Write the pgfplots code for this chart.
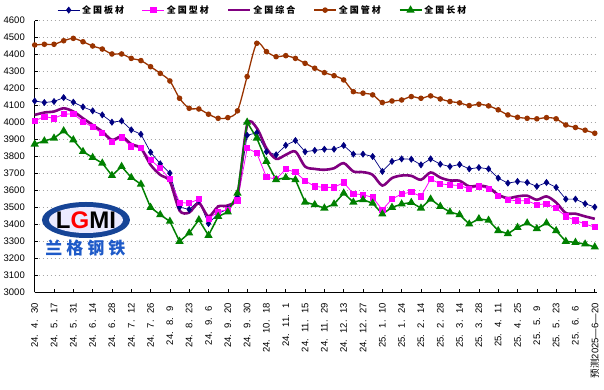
\documentclass[border=0pt]{standalone}
\usepackage{pgfplots}
\usepackage{pgfplotstable}
\pgfplotsset{compat=1.18}
\usepackage{fontspec}
\setmainfont{Liberation Sans}
\newfontfamily\cjk{Noto Sans CJK SC}
\definecolor{cBan}{RGB}{0,0,128}
\definecolor{cXing}{RGB}{255,0,255}
\definecolor{cZong}{RGB}{128,0,128}
\definecolor{cGuan}{RGB}{153,51,0}
\definecolor{cChang}{RGB}{0,128,0}
\definecolor{logoblue}{RGB}{30,90,200}
\newcommand\D{\makebox[0.95em][l]{.}}
\newcommand\dl[3]{#1\D#2\D#3}
\newcommand\sdl[3]{\makebox[4.7em][c]{#1\D#2\D#3}}
\newcommand\lgt[4]{{\cjk\bfseries #1\hspace{2pt}#2\hspace{2pt}#3\hspace{2pt}#4}}
\pgfplotstableread{
i ban xing zong guan chang
0 4127 4010 4045 4457 3873
1 4118 4035 4059 4461 3892
2 4124 4025 4065 4461 3908
3 4147 4049 4084 4482 3951
4 4120 4051 4065 4496 3898
5 4092 4006 4025 4476 3829
6 4069 3973 3986 4451 3794
7 4045 3937 3947 4433 3761
8 4002 3884 3898 4404 3688
9 4010 3912 3918 4404 3741
10 3957 3859 3873 4378 3676
11 3931 3853 3849 4365 3637
12 3825 3780 3751 4329 3500
13 3757 3731 3692 4290 3457
14 3702 3667 3653 4245 3418
15 3502 3529 3482 4143 3300
16 3488 3525 3470 4084 3349
17 3540 3549 3525 4080 3427
18 3405 3433 3447 4049 3335
19 3465 3476 3506 4025 3447
20 3490 3486 3512 4029 3473
21 3560 3541 3575 4069 3584
22 3925 3849 3986 4271 4002
23 3940 3820 3967 4467 3908
24 3828 3678 3849 4418 3771
25 3810 3667 3786 4388 3663
26 3866 3725 3810 4394 3676
27 3894 3708 3829 4378 3663
28 3828 3657 3741 4349 3531
29 3836 3624 3727 4320 3516
30 3843 3618 3722 4294 3496
31 3843 3618 3731 4276 3520
32 3865 3647 3761 4251 3584
33 3814 3580 3712 4182 3531
34 3814 3575 3708 4173 3545
35 3800 3559 3692 4163 3525
36 3712 3486 3629 4118 3461
37 3771 3549 3673 4127 3500
38 3786 3580 3688 4133 3520
39 3784 3590 3686 4153 3529
40 3751 3565 3663 4143 3496
41 3786 3667 3706 4157 3549
42 3755 3639 3676 4139 3506
43 3741 3633 3659 4124 3473
44 3753 3629 3657 4116 3457
45 3727 3610 3624 4100 3402
46 3735 3624 3629 4108 3433
47 3727 3610 3618 4098 3424
48 3673 3569 3575 4075 3363
49 3643 3545 3555 4045 3345
50 3653 3539 3565 4031 3382
51 3647 3539 3569 4025 3408
52 3624 3516 3545 4022 3375
53 3647 3522 3565 4029 3408
54 3618 3496 3529 4022 3363
55 3549 3447 3467 3986 3300
56 3549 3424 3463 3971 3294
57 3522 3402 3447 3955 3284
58 3502 3384 3433 3937 3267
}\data
\begin{document}
\begin{tikzpicture}
\useasboundingbox (-34.7pt,-96.7pt) rectangle (569.3pt,292.3pt);
\begin{axis}[
  at={(0pt,0pt)}, anchor=south west,
  scale only axis, width=562pt, height=271.6pt,
  xmin=0, xmax=58.2, ymin=3000, ymax=4600,
  clip=false,
  axis x line=bottom, axis y line=left,
  axis line style={-, line width=0.8pt, black},
  ytick={3000,3100,...,4600},
  xtick={0,2,...,58},
  xticklabels={{\dl{24}{4}{30}},{\dl{24}{5}{17}},{\dl{24}{5}{31}},{\dl{24}{6}{14}},{\dl{24}{6}{28}},{\dl{24}{7}{12}},{\dl{24}{7}{26}},{\sdl{24}{8}{9}},{\dl{24}{8}{23}},{\sdl{24}{9}{6}},{\dl{24}{9}{20}},{\dl{24}{9}{30}},{\dl{24}{10}{18}},{\dl{24}{11}{1}},{\dl{24}{11}{15}},{\dl{24}{11}{29}},{\dl{24}{12}{13}},{\dl{24}{12}{27}},{\dl{25}{1}{10}},{\dl{25}{1}{24}},{\dl{25}{2}{14}},{\dl{25}{2}{28}},{\dl{25}{3}{14}},{\dl{25}{3}{28}},{\dl{25}{4}{11}},{\dl{25}{4}{25}},{\sdl{25}{5}{9}},{\dl{25}{5}{23}},{\sdl{25}{6}{6}},{{\cjk 预测}2025—6—20}},
  tick align=inside, major tick length=3.5pt,
  tick style={black, line width=0.6pt},
  ymajorgrids, grid style={gray!70, line width=0.6pt, dash pattern=on 1pt off 3pt},
  /pgf/number format/assume math mode=true,
  /pgf/number format/1000 sep={},
  yticklabel style={font=\fontsize{9.5}{10}\selectfont, inner sep=0pt},
  yticklabel shift=9.7pt,
  xticklabel style={font=\fontsize{9.5}{10}\selectfont, rotate=90, anchor=east, inner sep=0pt},
  xticklabel shift=10.7pt,
  legend columns=5,
  legend cell align=left,
  legend style={draw=none, fill=none, inner sep=0pt, at={(axis description cs:0.04,1.039)}, anchor=west,
    font=\fontsize{9}{10}\selectfont,
    /tikz/every even column/.append style={column sep=16pt}},
  legend image code/.code={\draw[mark repeat=2,mark phase=2,#1] plot coordinates {(0pt,0pt)(11pt,0pt)(22pt,0pt)};},
]
\fill[logoblue!75!black] (axis cs:5.31,3426) ellipse [x radius=44pt, y radius=18pt];
\fill[blue!8] (axis cs:5.31,3426) ellipse [x radius=37pt, y radius=13pt];
\node at (axis cs:5.31,3426) {\fontsize{24}{24}\selectfont\bfseries L\textcolor{red}{G}MI};
\node[text=logoblue] at (axis cs:5.26,3261) {\cjk\bfseries\fontsize{17}{17}\selectfont 兰\hspace{4pt}格\hspace{4pt}钢\hspace{4pt}铁};

\addplot[cBan, line width=0.7pt, mark=diamond*, mark size=3pt, mark options={solid, fill=cBan}] table[x=i,y=ban]{\data};
\addlegendentry{\lgt{全}{国}{板}{材}}
\addplot[cXing, line width=0.8pt, mark=square*, mark size=2.6pt, mark options={solid, fill=cXing}] table[x=i,y=xing]{\data};
\addlegendentry{\lgt{全}{国}{型}{材}}
\addplot[cZong, line width=2.6pt, smooth, no markers] table[x=i,y=zong]{\data};
\addlegendentry{\lgt{全}{国}{综}{合}}
\addplot[cGuan, line width=1.3pt, smooth, mark=*, mark size=2.1pt, mark options={solid, fill=cGuan}] table[x=i,y=guan]{\data};
\addlegendentry{\lgt{全}{国}{管}{材}}
\addplot[cChang, line width=1.5pt, mark=triangle*, mark size=3.3pt, mark options={solid, fill=cChang}] table[x=i,y=chang]{\data};
\addlegendentry{\lgt{全}{国}{长}{材}}
\end{axis}
\end{tikzpicture}
\end{document}
